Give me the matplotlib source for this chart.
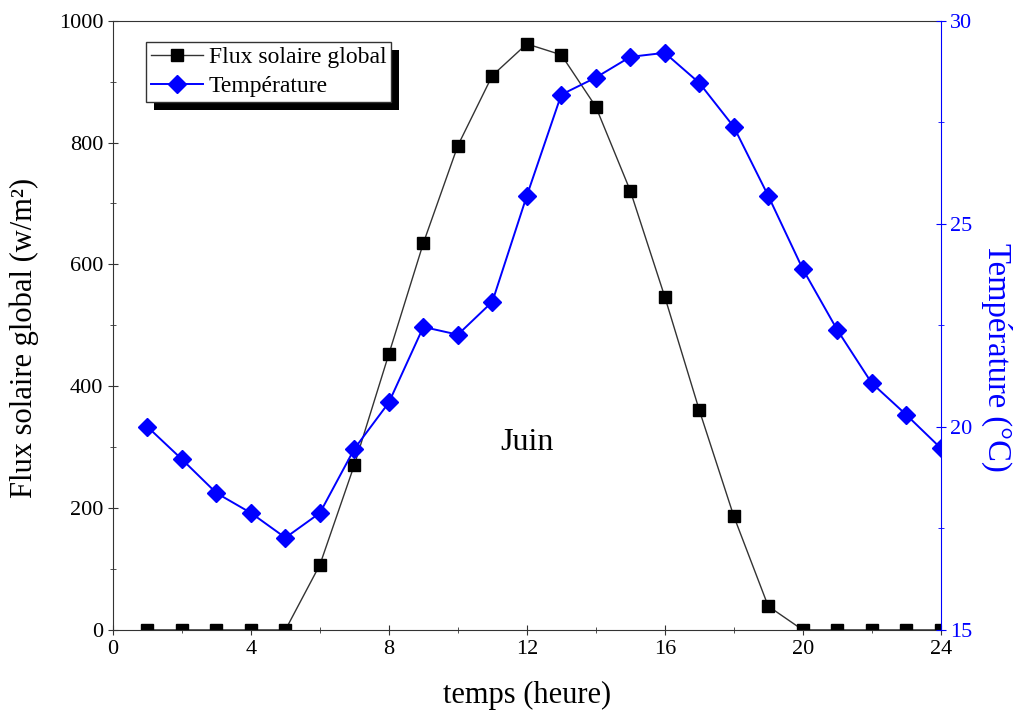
import matplotlib
matplotlib.use('Agg')
import matplotlib.pyplot as plt
from matplotlib.patches import Rectangle

plt.rcParams['font.family'] = ['Liberation Serif', 'DejaVu Serif']

# hours of the day
heures = [1, 2, 3, 4, 5, 6, 7, 8, 9, 10, 11, 12,
          13, 14, 15, 16, 17, 18, 19, 20, 21, 22, 23, 24]

# global solar flux (w/m2)
flux = [0, 0, 0, 0, 0, 107, 271, 453, 635, 795, 910, 962,
        944, 859, 721, 547, 361, 187, 39, 0, 0, 0, 0, 0]

# temperature (C)
temperature = [20.0, 19.2, 18.37, 17.88, 17.27, 17.88, 19.46, 20.6, 22.46, 22.27, 23.08, 25.69,
               28.18, 28.6, 29.11, 29.21, 28.47, 27.39, 25.69, 23.89, 22.39, 21.08, 20.3, 19.48]

bleu = '#0000ff'

fig = plt.figure(figsize=(10.18, 7.15), dpi=100)
ax = fig.add_axes([0.111, 0.119, 0.813, 0.852])
ax2 = ax.twinx()

l1, = ax.plot(heures, flux, color='#333333', lw=1.0, marker='s', ms=8.5,
              mfc='black', mec='black', label='Flux solaire global')
l2, = ax2.plot(heures, temperature, color=bleu, lw=1.4, marker='D', ms=9,
               mfc=bleu, mec=bleu, label='Température')
# markers on the frame get cut by the axes box like in the original
l1.set_clip_path(ax.patch)
l2.set_clip_path(ax.patch)

ax.set_xlim(0, 24)
ax.set_ylim(0, 1000)
ax2.set_ylim(15, 30)
ax.set_xticks([0, 4, 8, 12, 16, 20, 24])
ax.set_xticks(range(0, 25, 2), minor=True)
ax.set_yticks([0, 200, 400, 600, 800, 1000])
ax.set_yticks(range(0, 1001, 100), minor=True)
ax2.set_yticks([15, 20, 25, 30])
ax2.set_yticks([17.5, 22.5, 27.5], minor=True)

ax.tick_params(axis='both', which='major', direction='inout', length=7,
               labelsize=16, color='#333333')
ax.tick_params(axis='both', which='minor', direction='inout', length=5, color='#333333')
ax.tick_params(axis='y', right=False)
ax2.tick_params(axis='y', which='major', direction='inout', length=7,
                labelsize=16, colors=bleu)
ax2.tick_params(axis='y', which='minor', direction='inout', length=5, colors=bleu)

for s in ['left', 'bottom', 'top']:
    ax.spines[s].set_color('#333333')
ax2.spines['right'].set_color(bleu)
ax2.spines['left'].set_visible(False)
ax2.spines['bottom'].set_visible(False)
ax2.spines['top'].set_visible(False)
ax.spines['right'].set_visible(False)

ax.set_xlabel('temps (heure)', fontsize=22)
ax.set_ylabel('Flux solaire global (w/m²)', fontsize=22)
ax2.set_ylabel('Température (°C)', fontsize=23.5, color=bleu, rotation=-90)
ax.xaxis.set_label_coords(0.5, -0.084)
ax.yaxis.set_label_coords(-0.09, 0.479)
ax2.yaxis.set_label_coords(1.087, 0.448)

ax.text(12, 307, 'Juin', fontsize=23, ha='center', va='center')

leg = ax2.legend([l1, l2], ['Flux solaire global', 'Température'],
                 loc='upper left', bbox_to_anchor=(0.04, 0.965), fontsize=17,
                 frameon=True, fancybox=False, edgecolor='#333333', framealpha=1,
                 borderpad=0.2, handlelength=2.2, handletextpad=0.25,
                 labelspacing=0.3, borderaxespad=0)
leg.get_frame().set_linewidth(1.0)

# black drop shadow behind the legend box
fig.canvas.draw()
bb = leg.get_window_extent()
shadow = Rectangle((bb.x0 + 8, bb.y0 - 8), bb.width, bb.height,
                   transform=None, facecolor='black', edgecolor='none', zorder=4)
ax2.add_artist(shadow)
leg.set_zorder(5)

fig.savefig('out.png', dpi=100)
